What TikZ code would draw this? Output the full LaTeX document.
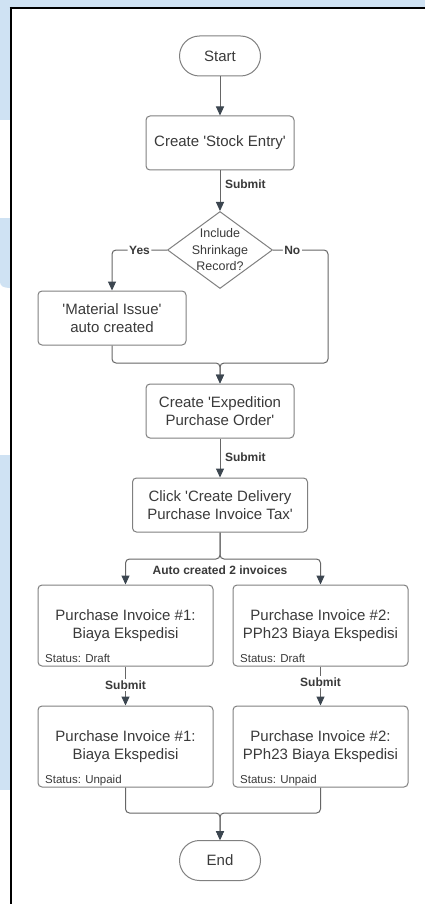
\documentclass[tikz,border=0pt]{standalone}
\usepackage{fontspec}
\setmainfont{Liberation Sans}[Ligatures=TeXOff]
\usetikzlibrary{shapes.geometric,arrows.meta,calc}
\definecolor{bgblue}{HTML}{CFE2F3}
\definecolor{txt}{HTML}{3A3A3A}
\definecolor{bord}{HTML}{808080}
\definecolor{connc}{HTML}{666666}
\definecolor{tipc}{HTML}{3C4650}
\begin{document}
\begin{tikzpicture}[x=1pt,y=-1pt,
  box/.style={draw=bord, line width=1pt, rounded corners=4pt, fill=white, text=txt,
    font=\fontsize{15}{18}\selectfont, align=center, inner sep=0pt},
  term/.style={box, rounded corners=20pt, minimum width=81pt, minimum height=40pt},
  proc/.style={box, minimum width=148pt, minimum height=54pt},
  wide/.style={box, minimum width=175pt, minimum height=54pt},
  inv/.style={box, minimum width=175pt, minimum height=81pt},
  stat/.style={text=txt, font=\fontsize{11.5}{13}\selectfont, inner sep=0pt, anchor=base west},
  lbl/.style={text=txt, font=\bfseries\fontsize{12}{14}\selectfont, inner sep=1.5pt},
  cline/.style={draw=connc, line width=1pt, rounded corners=4pt},
  arr/.style={cline, -{Triangle[length=9pt,width=8pt,color=tipc]}},
]
\useasboundingbox (0,0) rectangle (425,904);
% background and frame
\fill[white] (0,0) rectangle (425,904);
\fill[bgblue] (0,0) rectangle (425,7);
\fill[bgblue] (0,0) rectangle (10,120);
\fill[bgblue] (0,218) -- (10,218) -- (10,288) .. controls (4,288) and (0,286) .. (0,282) -- cycle;
\fill[bgblue] (0,455) rectangle (10,790);
\draw[black, line width=2pt] (9.5,8) -- (425,8);
\draw[black, line width=2pt] (10.5,7) -- (10.5,904);

% nodes
\node[term] (start) at (220,56) {Start};
\node[proc] (stock) at (220,143) {Create 'Stock Entry'};
\node[draw=bord, line width=1pt, diamond, minimum width=105pt, minimum height=77pt,
  inner sep=0pt, fill=white,
  label={[text=txt, align=center, font=\fontsize{12.5}{16.5}\selectfont]center:Include\\Shrinkage\\Record?}] (dec) at (220,250) {};
\node[proc] (mat) at (112,318) {'Material Issue'\\auto created};
\node[proc] (exp) at (220,411) {Create 'Expedition\\Purchase Order'};
\node[wide] (click) at (220,505) {Click 'Create Delivery\\Purchase Invoice Tax'};
\node[inv] (i1a) at (125.5,625.5) {Purchase Invoice \#1:\\Biaya Ekspedisi};
\node[inv] (i2a) at (320.5,625.5) {Purchase Invoice \#2:\\PPh23 Biaya Ekspedisi};
\node[inv] (i1b) at (125.5,746.5) {Purchase Invoice \#1:\\Biaya Ekspedisi};
\node[inv] (i2b) at (320.5,746.5) {Purchase Invoice \#2:\\PPh23 Biaya Ekspedisi};
\node[term] (end) at (220,860.5) {End};

\node[stat] (s1a) at ([xshift=7.5pt,yshift=4pt]i1a.south west) {Status: Draft};
\node[stat] (s2a) at ([xshift=7.5pt,yshift=4pt]i2a.south west) {Status: Draft};
\node[stat] (s1b) at ([xshift=7.5pt,yshift=4pt]i1b.south west) {Status: Unpaid};
\node[stat] (s2b) at ([xshift=7.5pt,yshift=4pt]i2b.south west) {Status: Unpaid};

% connectors
\draw[arr] (start) -- (stock);
\draw[arr] (stock) -- node[lbl, anchor=west, pos=0.33, xshift=3pt]{Submit} (dec);
\draw[arr] (dec.west) -| node[lbl, pos=0.25, fill=white]{Yes} (mat.north);
\coordinate (j1) at (220,363);
\draw[arr] (mat.south) |- (j1) -- (exp.north);
\draw[arr] (dec.east) -- node[lbl, fill=white, pos=0.35]{No} ++(55,0) |- (j1) -- (exp.north);
\draw[arr] (exp) -- node[lbl, anchor=west, pos=0.47, xshift=3pt]{Submit} (click);
\coordinate (j2) at (220,559);
\draw[arr] (click.south) -- (j2) -| (i1a.north);
\draw[arr] (click.south) -- (j2) -| (i2a.north);
\node[lbl] (auto) at (220,570) {Auto created 2 invoices};
\draw[arr] (i1a) -- node[lbl, fill=white, pos=0.475]{Submit} (i1b);
\draw[arr] (i2a) -- node[lbl, fill=white, pos=0.4]{Submit} (i2b);
\coordinate (j3) at (220,813);
\draw[arr] (i1b.south) |- (j3) -- (end.north);
\draw[arr] (i2b.south) |- (j3) -- (end.north);
\end{tikzpicture}
\end{document}
